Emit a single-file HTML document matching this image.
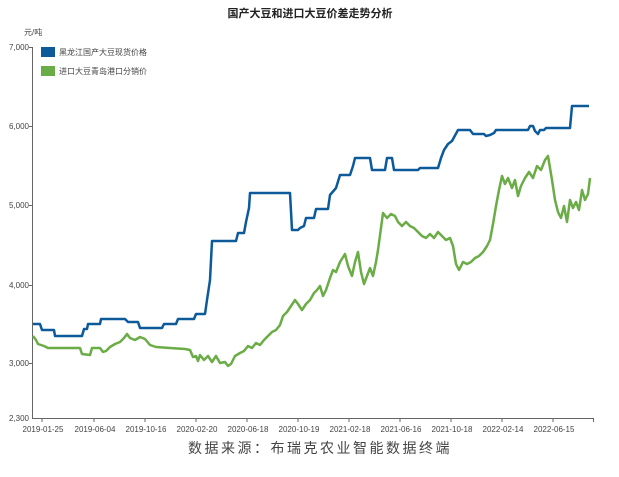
<!DOCTYPE html>
<html><head><meta charset="utf-8"><style>
body{margin:0;background:#fff;}
svg{display:block;font-family:"Liberation Sans","Noto Sans CJK SC",sans-serif;}
</style></head><body>
<svg width="619" height="477" viewBox="0 0 619 477" xmlns="http://www.w3.org/2000/svg">
<text x="310" y="17" text-anchor="middle" font-size="11" font-weight="bold" fill="#222">国产大豆和进口大豆价差走势分析</text>
<text x="24" y="35" font-size="8" fill="#444">元/吨</text>
<g font-size="8" fill="#444" text-anchor="end">
<text x="29" y="50">7,000</text><text x="29" y="129">6,000</text><text x="29" y="208">5,000</text><text x="29" y="288">4,000</text><text x="29" y="366">3,000</text><text x="29" y="421">2,300</text>
</g>
<g stroke="#666" stroke-width="1">
<line x1="32.5" y1="47" x2="32.5" y2="419"/><line x1="32" y1="418.5" x2="594" y2="418.5"/>
<line x1="29" y1="47.5" x2="33" y2="47.5"/><line x1="29" y1="126.5" x2="33" y2="126.5"/><line x1="29" y1="205.5" x2="33" y2="205.5"/><line x1="29" y1="285.5" x2="33" y2="285.5"/><line x1="29" y1="363.5" x2="33" y2="363.5"/>
<line x1="42" y1="418" x2="42" y2="422"/><line x1="94" y1="418" x2="94" y2="422"/><line x1="145" y1="418" x2="145" y2="422"/><line x1="196" y1="418" x2="196" y2="422"/><line x1="247" y1="418" x2="247" y2="422"/><line x1="298" y1="418" x2="298" y2="422"/><line x1="349" y1="418" x2="349" y2="422"/><line x1="400" y1="418" x2="400" y2="422"/><line x1="451" y1="418" x2="451" y2="422"/><line x1="502" y1="418" x2="502" y2="422"/><line x1="553" y1="418" x2="553" y2="422"/><line x1="593.5" y1="418" x2="593.5" y2="422"/>
</g>
<g font-size="8" fill="#444" text-anchor="middle">
<text x="43" y="432">2019-01-25</text><text x="95" y="432">2019-06-04</text><text x="146" y="432">2019-10-16</text><text x="197" y="432">2020-02-20</text><text x="248" y="432">2020-06-18</text><text x="299" y="432">2020-10-19</text><text x="350" y="432">2021-02-18</text><text x="401" y="432">2021-06-16</text><text x="452" y="432">2021-10-18</text><text x="503" y="432">2022-02-14</text><text x="554" y="432">2022-06-15</text>
</g>
<rect x="41" y="47" width="14" height="10" fill="#0d5a9a"/>
<rect x="41" y="66" width="14" height="10" fill="#6aac45"/>
<text x="59" y="55" font-size="8" fill="#444">黑龙江国产大豆现货价格</text>
<text x="59" y="74" font-size="8" fill="#444">进口大豆青岛港口分销价</text>
<polyline fill="none" stroke="#0d5a9a" stroke-width="2.5" stroke-linejoin="round" points="33,324 40,324 42,330 54,330 55,336 82,336 84,329 87,329 88,324 100,324 101,319 125,319 128,322 138,322 140,328 162,328 164,324 176,324 178,319 194,319 196,314 205,314 207,300 210,280 212,241 236,241 238,233 244,233 246,222 249,208 250,193 290,193 292,230 298,230 300,228 304,226 306,218 314,218 316,209 328,209 330,195 336,188 340,175 350,175 353,166 355,158 370,158 372,170 385,170 387,158 392,158 394,170 418,170 420,168 438,168 441,158 444,150 448,144 452,141 458,130 470,130 473,134 484,134 486,136 490,135 494,133 496,130 528,130 530,126 533,126 535,131 538,134 540,130 544,130 546,128 570,128 572,106 589,106"/>
<polyline fill="none" stroke="#6aac45" stroke-width="2.5" stroke-linejoin="round" points="33,336 36,340 38,344 44,346 48,348 80,348 82,354 90,355 92,348 100,348 103,352 106,351 110,347 115,344 120,342 124,338 127,334 130,338 135,340 140,337 145,339 150,345 156,347 170,348 185,349 190,350 193,357 196,356 198,361 200,355 204,360 208,356 212,362 216,356 220,363 225,362 228,366 231,364 235,356 240,353 244,351 248,346 252,348 256,343 260,345 264,340 268,336 272,332 276,330 280,325 283,316 287,312 291,306 295,300 298,304 302,310 306,304 310,300 314,293 317,290 320,286 323,296 326,290 330,278 333,270 336,272 340,262 345,254 348,266 352,276 355,262 358,252 361,272 364,284 367,276 370,268 373,276 376,262 378,250 381,228 383,213 387,218 391,214 395,216 398,222 402,226 406,222 410,226 414,228 418,232 422,236 426,238 430,234 434,238 438,232 442,236 446,240 450,238 453,246 456,264 459,270 463,262 467,264 471,262 475,258 479,256 483,252 487,246 490,240 493,224 496,206 499,190 502,176 505,184 508,178 512,188 515,180 518,196 521,186 525,178 529,172 533,178 537,166 541,170 545,160 548,156 550,168 552,180 555,200 558,212 561,218 564,206 567,222 570,200 573,208 576,202 579,210 582,190 585,200 588,194 590,178"/>
<text x="320" y="453" text-anchor="middle" font-family="'Noto Sans CJK SC','Liberation Sans',sans-serif" font-size="14" letter-spacing="2.5" fill="#444">数据来源：布瑞克农业智能数据终端</text>
</svg>
</body></html>
